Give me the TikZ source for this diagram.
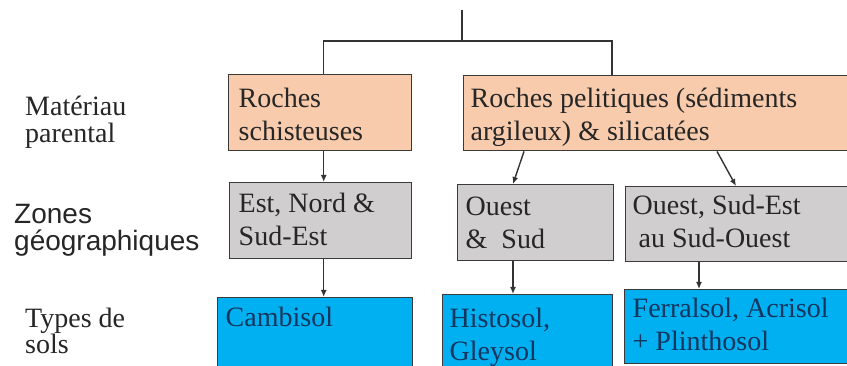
\documentclass[tikz,border=0pt]{standalone}
\usepackage{fontspec}
\setmainfont{Liberation Serif}
\newfontfamily\arialfont{Liberation Sans}
\usetikzlibrary{arrows.meta}
\definecolor{orangefill}{HTML}{F8CBAD}
\definecolor{grayfill}{HTML}{D0CECE}
\definecolor{bluefill}{HTML}{00B0F0}
\definecolor{framecol}{HTML}{3A3A3A}
\definecolor{txtcol}{HTML}{262626}
\definecolor{bluetxt}{HTML}{12365F}
\definecolor{linecol}{HTML}{333333}
% #1 width, #2 height, #3 left offset, #4 top offset, #5 text
\newcommand\boxcontent[5]{\begin{minipage}[t][#2][t]{#1}\raggedright\leftskip=#3\relax\vspace*{#4}\rule{0pt}{22pt}#5\end{minipage}}
\newcommand\labelcontent[2]{\begin{minipage}[t]{200pt}\raggedright#1\rule{0pt}{22pt}#2\end{minipage}}
\tikzset{
  box/.style={draw=framecol, line width=1.4pt, inner sep=0pt, anchor=north west,
    font=\fontsize{28}{33}\selectfont, text=txtcol},
  obox/.style={box, fill=orangefill},
  gbox/.style={box, fill=grayfill},
  bbox/.style={box, fill=bluefill, text=bluetxt},
  rowlabel/.style={inner sep=0pt, anchor=north west, text=txtcol},
  conn/.style={draw=linecol, line width=1.4pt},
  arr/.style={conn, -{Latex[length=7pt,width=6pt]}}
}
\begin{document}
\begin{tikzpicture}[x=1pt,y=-1pt]
\useasboundingbox (0,0) rectangle (847,366);
\clip (0,0) rectangle (847,366);
\fill[white] (0,0) rectangle (847,366);

% row labels
\node[rowlabel] (l1) at (25,93) {\labelcontent{\fontsize{28}{27}\selectfont}{Matériau\\parental}};
\node[rowlabel] (l2) at (14,201) {\labelcontent{\arialfont\fontsize{28}{27}\selectfont}{Zones\\géographiques}};
\node[rowlabel] (l3) at (25,305) {\labelcontent{\fontsize{28}{26}\selectfont}{Types de\\sols}};

% parent material
\node[obox] (O1) at (228,74) {\boxcontent{183pt}{76pt}{10pt}{11pt}{Roches\\schisteuses}};
\node[obox] (O2) at (463,75) {\boxcontent{420pt}{75pt}{7pt}{10pt}{Roches pelitiques (sédiments\\argileux) \& silicatées}};

% zones
\node[gbox] (G1) at (229,182) {\boxcontent{182pt}{76pt}{9pt}{8pt}{Est, Nord \&\\Sud-Est}};
\node[gbox] (G2) at (457,184) {\boxcontent{156pt}{76pt}{8pt}{9pt}{Ouest\\\&\ \ Sud}};
\node[gbox] (G3) at (625,186) {\boxcontent{260pt}{75pt}{7pt}{6pt}{Ouest, Sud-Est\\\hspace*{6pt}au Sud-Ouest}};

% soils
\node[bbox] (B1) at (217,297) {\boxcontent{195pt}{100pt}{8pt}{7pt}{Cambisol}};
\node[bbox] (B2) at (442,294) {\boxcontent{170pt}{100pt}{7pt}{11pt}{Histosol,\\Gleysol}};
\node[bbox] (B3) at (624,289) {\boxcontent{260pt}{74pt}{8pt}{6pt}{Ferralsol, Acrisol\\+ Plinthosol}};

% tree at top
\coordinate (top) at (462,10);
\coordinate (jn) at (462,41);
\draw[conn] (top) -- (jn);
\draw[conn] ([xshift=3.5pt]O1.north) -- ++(0,-33) -| ([xshift=149pt]O2.north west);

% arrows
\draw[arr] ([xshift=3.5pt]O1.south) -- ([xshift=3pt]G1.north);
\draw[arr] ([xshift=61pt]O2.south west) -- ([xshift=56pt]G2.north west);
\draw[arr] ([xshift=254pt]O2.south west) -- ([xshift=111pt]G3.north west);
\draw[arr] ([xshift=3pt]G1.south) -- ([xshift=8.5pt]B1.north);
\draw[arr] ([xshift=56pt]G2.south west) -- ([xshift=71pt]B2.north west);
\draw[arr] ([xshift=74pt]G3.south west) -- ([xshift=75pt]B3.north west);
\end{tikzpicture}
\end{document}
